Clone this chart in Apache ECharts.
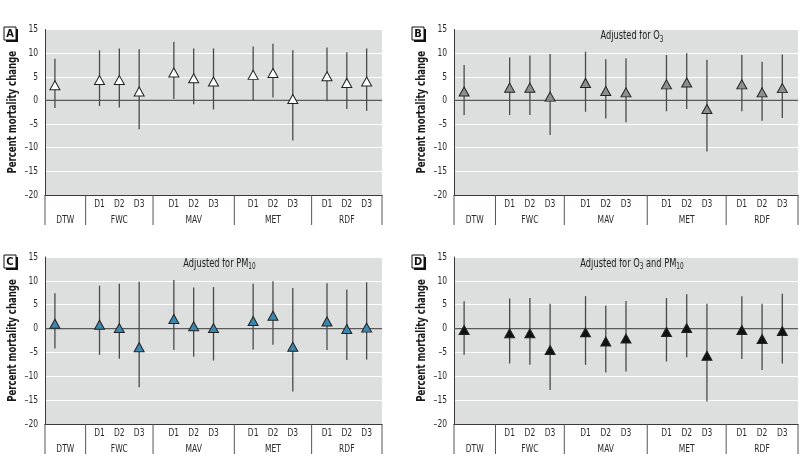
<!DOCTYPE html>
<html>
<head>
<meta charset="utf-8">
<script src="https://cdn.jsdelivr.net/npm/echarts@6/dist/echarts.min.js"></script>
<style>html,body{margin:0;padding:0;background:#fff}#c{width:800px;height:456px}</style>
</head>
<body>
<div id="c"></div>
<script>
// ---------------- DATA ----------------
const groups = ['DTW', 'FWC', 'MAV', 'MET', 'RDF'];
const lags = ['D1', 'D2', 'D3'];
// categories in order: DTW, FWC D1-D3, MAV D1-D3, MET D1-D3, RDF D1-D3
const categories = ['DTW', 'FWC D1', 'FWC D2', 'FWC D3', 'MAV D1', 'MAV D2', 'MAV D3',
                    'MET D1', 'MET D2', 'MET D3', 'RDF D1', 'RDF D2', 'RDF D3'];
const yTicks = [15, 10, 5, 0, -5, -10, -15, -20];

const estA = [3.2, 4.3, 4.3, 1.9, 5.9, 4.7, 4.0, 5.4, 5.8, 0.3, 5.1, 3.7, 4.0];
const lowA = [-1.6, -1.2, -1.5, -6.1, 0.3, -0.8, -1.9, 0.0, 0.6, -8.5, -0.2, -1.8, -2.2];
const highA = [8.8, 10.6, 11.0, 10.8, 12.4, 11.0, 11.0, 11.4, 12.0, 10.6, 11.2, 10.2, 11.0];

const estB = [1.9, 2.7, 2.7, 0.8, 3.7, 2.0, 1.7, 3.4, 3.8, -1.8, 3.4, 1.7, 2.6];
const lowB = [-3.1, -3.1, -3.1, -7.3, -2.4, -3.8, -4.6, -2.3, -1.8, -10.8, -2.3, -4.3, -3.7];
const highB = [7.5, 9.1, 9.5, 9.8, 10.3, 8.7, 8.9, 9.6, 10.0, 8.6, 9.6, 8.2, 9.7];

const estC = [1.0, 0.8, 0.1, -3.9, 2.0, 0.5, 0.1, 1.6, 2.7, -3.8, 1.5, -0.1, 0.2];
const lowC = [-4.2, -5.5, -6.3, -12.3, -4.5, -5.9, -6.7, -4.4, -3.4, -13.2, -4.5, -6.6, -6.5];
const highC = [7.4, 9.0, 9.4, 9.8, 10.2, 8.6, 8.7, 9.4, 9.9, 8.5, 9.5, 8.2, 9.7];

const estD = [-0.3, -1.0, -1.0, -4.5, -0.8, -2.7, -2.1, -0.7, 0.1, -5.7, -0.3, -2.2, -0.5];
const lowD = [-5.5, -7.3, -7.6, -12.9, -7.6, -9.2, -9.0, -6.9, -6.0, -15.3, -6.4, -8.7, -7.3];
const highD = [5.7, 6.3, 6.4, 5.2, 6.8, 4.8, 5.8, 6.4, 7.2, 5.2, 6.8, 5.2, 7.3];

const panelLetters = ['A', 'B', 'C', 'D'];
const yAxisName = 'Percent mortality change';

// ---------------- LAYOUT ----------------
const FONT = "'Liberation Sans Narrow','DejaVu Sans Condensed','Liberation Sans',Arial,sans-serif";
const NARROW = 0.8;   // horizontal squeeze to imitate the condensed original typeface
const X_MAX = 340;
const GROUP_EDGES = [0, 41, 109, 191, 269, 340];   // axis units
const SINGLE_OFFSET = 10;
const LAG_STEP = 20;

function catX(j) {
  const parts = categories[j].split(' ');
  const g = groups.indexOf(parts[0]);
  const a = GROUP_EDGES[g], b = GROUP_EDGES[g + 1];
  if (parts.length === 1) return a + SINGLE_OFFSET;
  const li = lags.indexOf(parts[1]);
  return (a + b) / 2 + (li - 1) * LAG_STEP;
}
const XPOS = categories.map((c, j) => catX(j));

const labelItems = [];
categories.forEach((c, j) => {
  const parts = c.split(' ');
  if (parts.length > 1) labelItems.push({ x: XPOS[j], text: parts[1], row: 0 });
});
groups.forEach((g, i) => labelItems.push({ x: (GROUP_EDGES[i] + GROUP_EDGES[i + 1]) / 2, text: g, row: 1 }));

const panels = [
  { est: estA, lo: lowA, hi: highA, fill: '#ffffff', grid: { left: 45, top: 29.5, width: 337, height: 165.5 }, sub: null, box: [4, 27] },
  { est: estB, lo: lowB, hi: highB, fill: '#8c8f8e', grid: { left: 454, top: 29.5, width: 344, height: 165.5 },
    sub: '{n|Adjusted for O}{s|3}', box: [412, 27] },
  { est: estC, lo: lowC, hi: highC, fill: '#3d86ad', grid: { left: 45, top: 257, width: 337, height: 167 },
    sub: '{n|Adjusted for PM}{s|10}', box: [4, 255] },
  { est: estD, lo: lowD, hi: highD, fill: '#111111', grid: { left: 454, top: 257, width: 344, height: 167 },
    sub: '{n|Adjusted for O}{s|3}{n| and PM}{s|10}', box: [412, 255] }
];

const grid = [], xAxis = [], yAxis = [], series = [], graphic = [];

panels.forEach((p, i) => {
  grid.push(Object.assign({ show: true, backgroundColor: '#dcdfde', borderWidth: 0 }, p.grid));
  xAxis.push({
    gridIndex: i, type: 'value', min: 0, max: X_MAX,
    axisLine: { show: true, onZero: false, lineStyle: { color: '#3a3a3a', width: 1 } },
    axisTick: { show: false }, axisLabel: { show: false }, splitLine: { show: false }
  });
  yAxis.push({
    gridIndex: i, type: 'value', min: yTicks[yTicks.length - 1], max: yTicks[0], interval: 5,
    axisLine: { show: true, onZero: false, lineStyle: { color: '#3a3a3a', width: 1 } },
    axisTick: { show: false }, axisLabel: { show: false },
    splitLine: { show: true, lineStyle: { color: '#ffffff', width: 1.2 } }
  });

  // zero reference line
  series.push({
    type: 'line', xAxisIndex: i, yAxisIndex: i, data: [[0, 0], [X_MAX, 0]],
    symbol: 'none', silent: true, z: 2,
    lineStyle: { color: '#5a5a5a', width: 1.3 }
  });
  // error bars
  series.push({
    type: 'custom', xAxisIndex: i, yAxisIndex: i, z: 3, silent: true,
    data: XPOS.map((x, j) => [x, p.lo[j], p.hi[j]]),
    encode: { x: 0, y: [1, 2] },
    renderItem: (params, api) => {
      const a = api.coord([api.value(0), api.value(1)]);
      const b = api.coord([api.value(0), api.value(2)]);
      return { type: 'line', shape: { x1: a[0], y1: a[1], x2: b[0], y2: b[1] },
        style: { stroke: '#4a4a4a', lineWidth: 1.3 } };
    }
  });
  // estimates
  series.push({
    type: 'scatter', xAxisIndex: i, yAxisIndex: i, z: 5, silent: true,
    data: XPOS.map((x, j) => [x, p.est[j]]),
    symbol: 'triangle', symbolSize: [10, 9],
    itemStyle: { color: p.fill, borderColor: '#222', borderWidth: 1, opacity: 1 }
  });
  // y tick labels (condensed)
  series.push({
    type: 'custom', xAxisIndex: i, yAxisIndex: i, z: 5, silent: true, clip: false,
    data: yTicks.map(v => [0, v]),
    renderItem: (params, api) => {
      const v = api.value(1);
      const pt = api.coord([api.value(0), v]);
      return { type: 'text', x: pt[0] - 7, y: pt[1], scaleX: NARROW,
        style: { text: v < 0 ? '\u2013' + (-v) : String(v), fill: '#2a2a2a', fontFamily: FONT,
          fontSize: 10.5, align: 'right', verticalAlign: 'middle' } };
    }
  });
  // category labels below axis
  series.push({
    type: 'custom', xAxisIndex: i, yAxisIndex: i, z: 5, silent: true, clip: false,
    data: labelItems.map(l => [l.x, -20]),
    renderItem: (params, api) => {
      const it = labelItems[params.dataIndex];
      const pt = api.coord([api.value(0), api.value(1)]);
      return { type: 'text', x: pt[0], y: pt[1] + (it.row ? 25 : 9.5), scaleX: NARROW,
        style: { text: it.text, fill: '#2a2a2a', fontFamily: FONT, fontSize: 10.5,
          align: 'center', verticalAlign: 'middle' } };
    }
  });
  // group separators below axis
  series.push({
    type: 'custom', xAxisIndex: i, yAxisIndex: i, z: 5, silent: true, clip: false,
    data: GROUP_EDGES.map(e => [e, -20]),
    renderItem: (params, api) => {
      const pt = api.coord([api.value(0), api.value(1)]);
      return { type: 'line', shape: { x1: pt[0], y1: pt[1], x2: pt[0], y2: pt[1] + 30 },
        style: { stroke: '#555', lineWidth: 1 } };
    }
  });

  // y axis title
  graphic.push({
    type: 'text', x: p.grid.left - 32.5, y: p.grid.top + p.grid.height / 2,
    rotation: Math.PI / 2, scaleX: 0.76,
    style: { text: yAxisName, fill: '#1a1a1a', fontFamily: FONT, fontWeight: 'bold', fontSize: 12.5,
      align: 'center', verticalAlign: 'middle' }
  });
  // panel letter box
  graphic.push({
    type: 'group', x: p.box[0], y: p.box[1], children: [
      { type: 'rect', shape: { x: 2, y: 2, width: 12, height: 13 }, style: { fill: '#111' } },
      { type: 'rect', shape: { x: 0, y: 0, width: 12, height: 13 }, style: { fill: '#fff', stroke: '#111', lineWidth: 1 } },
      { type: 'text', x: 6, y: 7, style: { text: panelLetters[i], fill: '#111', fontFamily: FONT,
        fontWeight: 'bold', fontSize: 11, align: 'center', verticalAlign: 'middle' } }
    ]
  });
  if (p.sub) {
    graphic.push({
      type: 'text', x: p.grid.left + p.grid.width / 2 + 6, y: p.grid.top + 7, scaleX: NARROW,
      style: { text: p.sub, align: 'center', verticalAlign: 'middle',
        rich: {
          n: { fontFamily: FONT, fontSize: 11.5, fill: '#222' },
          s: { fontFamily: FONT, fontSize: 8, fill: '#222', padding: [6, 0, 0, 0] }
        } }
    });
  }
});

const chart = echarts.init(document.getElementById('c'), null, { renderer: 'canvas' });
chart.setOption({ animation: false, grid, xAxis, yAxis, series, graphic });
</script>
</body>
</html>
